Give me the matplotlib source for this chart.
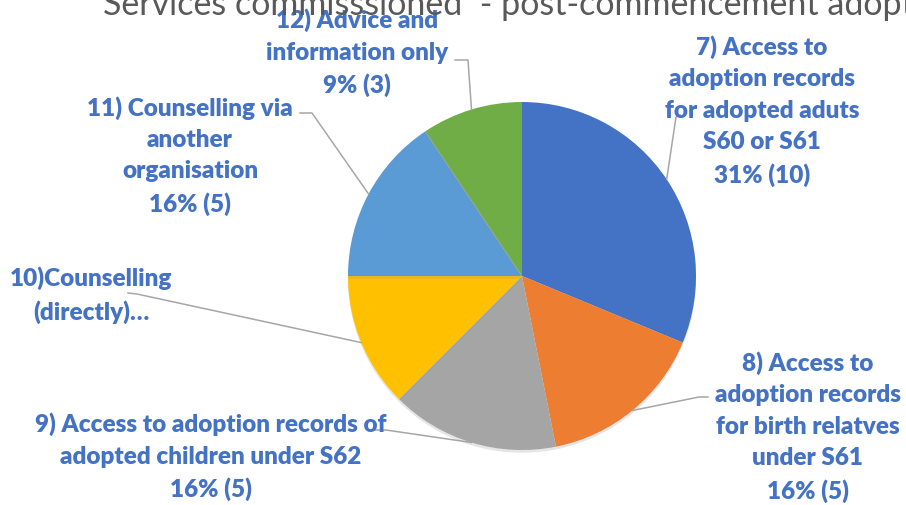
import matplotlib.pyplot as plt
import matplotlib.patheffects as pe
import numpy as np

# data
categories = [
    "7) Access to\nadoption records\nfor adopted aduts\nS60 or S61",
    "8) Access to\nadoption records\nfor birth relatves\nunder S61",
    "9) Access to adoption records of\nadopted children under S62",
    "10)Counselling\n(directly)…",
    "11) Counselling via\nanother\norganisation",
    "12) Advice and\ninformation only",
]
values = [10, 5, 5, 4, 5, 3]
show_value = [True, True, True, False, True, True]
colors = ["#4472C4", "#ED7D31", "#A5A5A5", "#FFC000", "#5B9BD5", "#70AD47"]
title = "Services commisssioned  - post-commencement adoption support services"

W, H = 906, 506
fig = plt.figure(figsize=(W / 100, H / 100), dpi=100)
ax = fig.add_axes([0, 0, 1, 1])

# pie in pixel coords (y flipped)
cx, cy, r = 522, H - 277, 174
wedges, _ = ax.pie(values, colors=colors, startangle=90, counterclock=False,
                   center=(cx, cy), radius=r, wedgeprops=dict(linewidth=0))
for w in wedges:
    w.set_path_effects([pe.SimplePatchShadow(offset=(0, -2), shadow_rgbFace="#999999", alpha=0.25),
                        pe.Normal()])

ax.set_xlim(0, W)
ax.set_ylim(0, H)
ax.set_aspect("auto")
ax.axis("off")

# label layout: text centre (px), leader start, elbow (px)
label_pos = [(762, 111), (808, 427), (211, 457), (91, 295), (190, 156), (357, 53)]
leader_start = [(680, 116), (708, 398), (373, 431), (128, 294), (300, 114), (455, 61)]
leader_elbow = [(676, 118), (699, 398), (386, 431), (137, 295), (312, 114), (468, 61)]

total = sum(values)
for i, w in enumerate(wedges):
    txt = categories[i]
    if show_value[i]:
        txt += f"\n{round(values[i] / total * 100)}% ({values[i]})"
    x, y = label_pos[i]
    ax.text(x, H - y, txt, ha="center", va="center", fontsize=17.5, fontweight="heavy",
            family="Lato", color="#4472C4", linespacing=1.52, zorder=5)

    mid = np.deg2rad((w.theta1 + w.theta2) / 2)
    ex, ey = cx + r * np.cos(mid), cy + r * np.sin(mid)
    sx, sy = leader_start[i]
    bx, by = leader_elbow[i]
    ax.plot([sx, bx, ex], [H - sy, H - by, ey], color="#A6A6A6", lw=1.1, zorder=4)

# title runs off the top of the frame
fig.text(103 / W, 1 - 15 / H, title, ha="left", va="baseline", fontsize=24.5,
         family="Lato", color="#595959")

fig.savefig("out.png", dpi=100)
